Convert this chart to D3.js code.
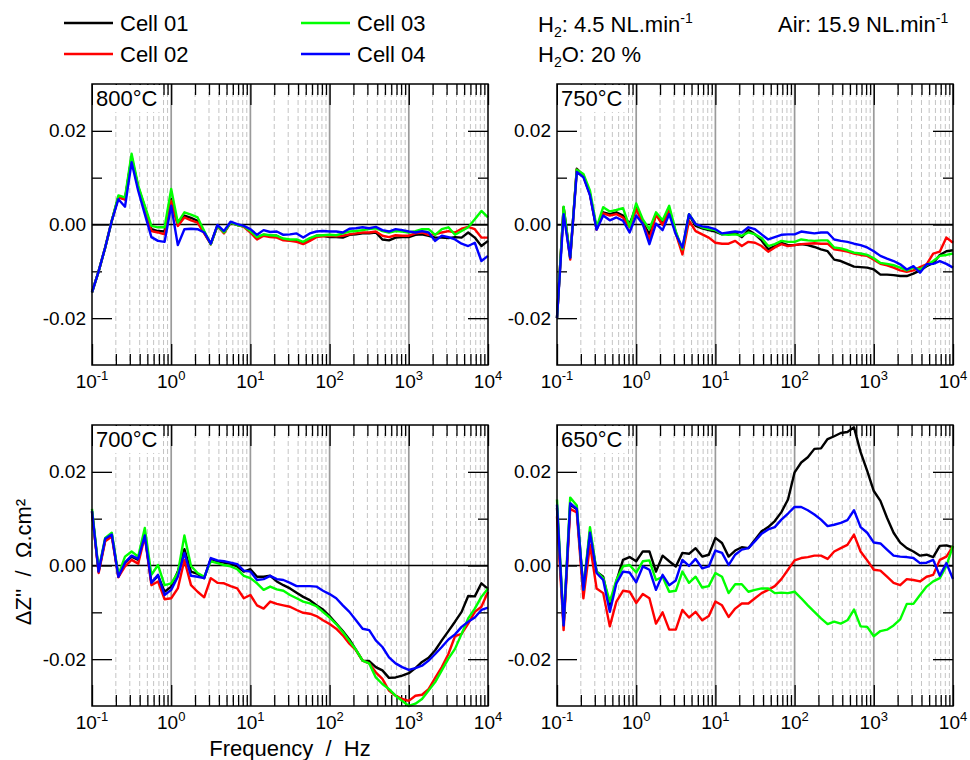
<!DOCTYPE html>
<html><head><meta charset="utf-8">
<script src="https://cdn.jsdelivr.net/npm/d3@7"></script>
<style>
body{margin:0;background:#fff}
svg{font-family:"Liberation Sans",Arial,sans-serif}
</style>
</head><body>
<svg id="c" width="970" height="760"></svg>
<script>
// Frequencies (Hz), 12 points per decade
const frequency = [0.1,0.1212,0.1468,0.1778,0.2154,0.2610,0.3162,0.3831,0.4642,0.5623,0.6813,0.8254,
1,1.212,1.468,1.778,2.154,2.610,3.162,3.831,4.642,5.623,6.813,8.254,
10,12.12,14.68,17.78,21.54,26.10,31.62,38.31,46.42,56.23,68.13,82.54,
100,121.2,146.8,177.8,215.4,261.0,316.2,383.1,464.2,562.3,681.3,825.4,
1000,1212,1468,1778,2154,2610,3162,3831,4642,5623,6813,8254,10000];

const cells = ["Cell 01","Cell 02","Cell 03","Cell 04"];
const cellColors = ["#000000","#ff0000","#00ff00","#0000ff"];
const temperatures = ["800°C","750°C","700°C","650°C"];

// ΔZ'' values in units of 1e-3 Ω.cm²
const t800_cell01 = [-14.5,-10.0,-4.9,0.8,5.9,5.4,14.4,8.0,3.7,-1.0,-1.4,-1.5,5.4,0.1,1.9,1.4,0.8,-1.7,-4.2,-0.3,-1.7,0.4,-0.1,-0.4,-1.4,-2.8,-2.2,-2.4,-2.4,-3.2,-3.4,-3.4,-3.9,-3.2,-2.4,-2.4,-2.7,-2.7,-2.8,-2.2,-2.1,-1.9,-1.9,-1.7,-3.2,-3.4,-2.8,-2.7,-2.7,-2.2,-2.1,-2.4,-2.8,-2.8,-2.9,-2.7,-2.8,-1.7,-2.8,-4.6,-3.5];
const t800_cell02 = [-14.5,-10.0,-4.9,0.8,5.8,5.3,14.1,7.8,3.5,-1.4,-1.7,-2.1,5.1,-0.3,1.5,0.9,0.4,-1.9,-4.2,-0.3,-1.9,0.4,-0.1,-0.5,-1.7,-3.2,-2.4,-2.7,-2.8,-3.4,-3.5,-3.7,-4.2,-3.5,-2.7,-2.5,-2.4,-2.5,-2.4,-2.1,-1.9,-1.7,-1.7,-1.5,-2.4,-2.7,-2.3,-2.4,-2.4,-1.9,-1.7,-2.2,-2.1,-1.7,-1.4,-1.7,-0.9,-0.5,-1.0,-2.8,-2.8];
const t800_cell03 = [-14.5,-10.0,-4.9,0.8,6.2,5.8,15.1,8.3,4.0,-0.3,-0.6,-0.6,7.6,0.4,2.6,2.1,1.5,-1.4,-4.2,-0.3,-1.7,0.4,-0.1,-0.4,-1.4,-2.7,-2.1,-2.3,-2.4,-3.0,-3.2,-3.2,-3.7,-2.9,-2.4,-2.3,-2.2,-2.3,-1.9,-1.5,-1.4,-1.2,-1.0,-0.8,-1.4,-1.7,-1.4,-1.5,-1.7,-1.4,-1.0,-1.0,-2.2,-1.0,-0.6,-2.2,-1.4,-0.6,1.1,2.9,1.5];
const t800_cell04 = [-14.5,-10.0,-4.9,0.8,5.4,3.8,13.3,7.2,2.2,-2.7,-3.5,-3.7,4.0,-4.4,-1.0,-0.9,-1.0,-1.7,-4.1,-0.1,-1.4,0.6,0.1,-0.3,-1.0,-2.2,-1.2,-1.6,-1.5,-2.2,-2.1,-1.9,-2.8,-1.9,-1.5,-1.4,-1.5,-1.5,-1.7,-0.9,-0.8,-0.6,-0.8,-0.5,-1.2,-1.5,-1.0,-1.2,-1.5,-1.7,-1.4,-1.7,-3.5,-2.4,-2.7,-3.2,-4.1,-4.6,-3.9,-7.8,-6.7];

const t750_cell01 = [-20.0,3.7,-7.1,11.9,10.5,6.5,-1.0,2.6,2.2,2.6,1.9,0.1,3.7,0.4,-2.1,2.2,0.1,3.3,-1.7,-5.7,2.1,-0.3,-0.8,-1.2,-1.5,-2.1,-1.9,-1.7,-2.7,-1.2,-2.1,-3.4,-5.3,-4.6,-3.9,-4.4,-4.4,-4.2,-4.4,-4.8,-5.3,-5.7,-7.5,-7.8,-8.4,-9.0,-9.1,-9.2,-9.6,-10.7,-10.7,-10.8,-11.0,-11.0,-10.5,-9.8,-8.9,-8.2,-6.5,-5.7,-5.5];
const t750_cell02 = [-20.0,3.5,-7.5,11.7,10.3,6.4,-1.1,2.4,1.9,2.2,1.5,-0.6,3.3,0.2,-3.2,2.1,-0.1,3.1,-1.9,-6.4,0.8,-1.4,-2.1,-2.8,-3.9,-4.1,-4.1,-3.5,-4.6,-3.7,-3.9,-4.6,-5.8,-4.9,-4.2,-4.6,-4.4,-4.2,-4.1,-4.0,-4.1,-4.1,-5.3,-5.5,-5.8,-6.2,-6.5,-6.7,-7.5,-8.4,-8.7,-9.2,-9.8,-10.1,-9.8,-9.1,-8.5,-6.2,-5.8,-2.8,-3.9];
const t750_cell03 = [-20.0,3.8,-7.0,11.7,10.8,7.2,-0.6,3.7,2.8,3.1,3.5,-0.5,4.5,1.1,-1.0,2.6,0.9,4.0,-1.5,-5.3,2.2,0.1,-0.6,-1.0,-1.2,-2.1,-2.2,-2.1,-2.4,-1.7,-2.1,-2.9,-4.6,-4.2,-3.5,-3.7,-3.7,-3.2,-3.4,-3.5,-3.4,-3.4,-4.9,-5.1,-5.5,-6.0,-6.2,-6.5,-7.2,-8.2,-8.4,-8.7,-9.2,-9.8,-9.2,-9.6,-8.7,-7.8,-6.7,-6.5,-6.2];
const t750_cell04 = [-20.0,2.2,-7.1,11.2,10.1,6.2,-1.1,1.9,0.9,1.5,0.8,-1.7,1.9,0.1,-4.2,0.2,-1.2,2.2,-2.1,-4.9,2.2,0.1,-0.4,-0.6,-1.0,-1.9,-1.7,-1.5,-1.7,-0.6,-1.0,-2.1,-3.2,-2.7,-2.2,-2.1,-2.1,-1.5,-1.7,-1.9,-1.7,-1.7,-3.2,-3.5,-3.7,-4.1,-4.4,-4.9,-5.7,-6.7,-7.3,-7.8,-8.5,-9.6,-8.9,-10.3,-8.5,-8.4,-7.8,-8.4,-9.2];

const t700_cell01 = [11.6,-1.3,5.5,6.6,-2.4,0.6,1.9,1.2,6.6,-3.7,-2.2,-5.6,-4.5,-1.3,3.5,-1.3,-1.8,-2.7,1.4,0.9,0.6,0.4,-0.2,-1.3,-0.8,-2.4,-2.4,-2.2,-3.4,-4.2,-4.9,-5.8,-6.7,-7.4,-8.5,-9.4,-10.8,-12.4,-14.0,-15.8,-18.0,-20.3,-20.4,-21.7,-22.4,-24.0,-23.9,-23.5,-23.0,-21.9,-20.6,-19.7,-18.1,-16.0,-14.0,-12.0,-9.9,-6.5,-6.6,-3.8,-5.0];
const t700_cell02 = [11.4,-1.6,5.2,6.2,-2.5,-0.2,1.2,0.4,6.2,-4.2,-3.4,-7.2,-7.0,-4.9,1.2,-4.2,-5.6,-6.8,-2.7,-3.7,-3.8,-4.4,-4.9,-7.0,-6.3,-8.5,-9.2,-7.7,-8.2,-8.5,-8.8,-9.5,-10.1,-10.3,-10.8,-11.7,-12.5,-13.5,-14.9,-16.7,-18.1,-20.3,-20.9,-22.8,-24.2,-26.7,-27.8,-28.5,-28.9,-27.8,-27.6,-26.4,-24.0,-21.7,-18.9,-15.1,-14.6,-12.4,-9.9,-8.8,-5.6];
const t700_cell03 = [12.1,-0.9,5.9,7.0,-2.0,1.9,3.0,1.9,8.0,-2.0,0.1,-4.2,-3.8,-1.6,6.4,-0.1,-1.6,-2.4,0.9,0.5,0.1,-0.2,-0.8,-2.2,-2.7,-3.8,-5.2,-4.5,-5.1,-5.4,-6.3,-7.0,-7.7,-8.1,-8.7,-9.9,-11.1,-12.5,-14.2,-16.1,-18.0,-20.3,-20.9,-23.9,-25.3,-26.4,-27.8,-28.9,-30.0,-29.5,-28.5,-26.7,-24.9,-22.4,-19.9,-17.8,-14.6,-11.3,-9.2,-6.7,-4.9];
const t700_cell04 = [11.6,-1.3,5.7,6.6,-2.4,0.6,2.1,1.4,6.4,-3.7,-2.0,-6.3,-5.2,-2.4,2.7,-2.2,-2.4,-2.7,1.6,1.1,0.9,0.6,0.3,-1.1,-1.3,-3.1,-2.9,-2.2,-2.9,-3.1,-3.7,-4.4,-4.4,-4.4,-4.5,-5.4,-6.1,-7.0,-8.5,-9.9,-11.7,-13.5,-13.8,-16.0,-17.4,-19.6,-20.9,-21.7,-22.3,-21.9,-21.4,-20.3,-18.9,-17.4,-15.8,-14.7,-13.1,-12.0,-11.1,-9.5,-9.0];

const t650_cell01 = [12.3,-12.8,13.0,12.0,-5.2,7.3,-1.3,-2.4,-8.8,-3.4,1.2,1.8,0.9,3.0,3.0,-1.3,2.1,0.9,-0.2,2.7,2.5,3.7,1.9,2.3,5.9,4.8,1.9,3.2,3.9,3.7,5.5,7.3,8.2,9.5,11.4,14.1,19.9,22.0,23.1,24.9,25.0,27.0,27.6,28.3,28.5,29.5,24.2,20.2,15.9,13.8,10.2,7.0,4.9,3.7,3.0,2.1,2.3,1.8,4.2,4.3,3.9];
const t650_cell02 = [10.5,-13.8,12.1,11.3,-7.0,4.4,-4.9,-5.9,-13.0,-7.7,-5.4,-5.6,-8.0,-6.1,-7.0,-12.4,-10.0,-13.7,-13.7,-9.5,-11.1,-9.9,-11.7,-10.8,-7.7,-8.5,-11.0,-9.2,-8.1,-8.1,-7.0,-5.9,-5.2,-4.4,-2.9,-0.9,1.1,1.6,1.8,2.1,2.1,1.4,3.0,3.7,4.4,6.6,3.0,1.1,-0.9,-1.1,-2.4,-3.7,-4.2,-2.9,-3.1,-3.4,-2.4,-2.0,1.2,1.9,4.1];
const t650_cell03 = [14.1,-12.5,14.5,12.8,-5.1,8.2,-1.3,-2.7,-7.7,-3.1,-0.2,0.1,-1.5,0.9,1.1,-3.1,-2.4,-5.6,-5.4,-1.3,-3.7,-2.4,-4.7,-4.4,-1.6,-2.4,-5.9,-4.0,-4.0,-5.6,-5.2,-4.9,-4.9,-5.9,-5.8,-5.9,-5.6,-7.0,-8.5,-9.9,-11.3,-12.5,-12.0,-12.4,-11.7,-9.4,-13.0,-13.1,-15.1,-14.0,-13.7,-12.8,-11.5,-8.2,-8.2,-6.3,-4.5,-3.4,-2.7,-0.1,4.2];
const t650_cell04 = [13.0,-12.8,13.3,12.1,-5.2,7.0,-1.6,-3.1,-9.9,-3.8,-1.3,-1.5,-3.6,-0.2,-0.9,-5.2,-2.0,-4.2,-3.2,1.2,-0.1,1.4,-0.6,-0.2,3.2,2.7,0.1,2.3,3.4,3.7,5.2,6.8,7.7,8.2,9.8,11.1,12.5,12.5,11.8,10.9,9.8,8.4,8.7,9.1,9.7,11.8,8.2,7.0,4.9,4.7,3.4,2.1,1.9,1.8,1.6,0.5,0.6,1.2,-2.2,0.5,-2.9];

const xMajorTicks = [0.1,1,10,100,1000,10000];
const xTickExponents = ["-1","0","1","2","3","4"];
const yMajorTicks = [-0.02,0,0.02];
const yMinorTicks = [-0.01,0.01];

const panels = [
  {label:temperatures[0], x0:92,  y0:84,  series:[t800_cell01,t800_cell02,t800_cell03,t800_cell04]},
  {label:temperatures[1], x0:557, y0:84,  series:[t750_cell01,t750_cell02,t750_cell03,t750_cell04]},
  {label:temperatures[2], x0:92,  y0:425, series:[t700_cell01,t700_cell02,t700_cell03,t700_cell04]},
  {label:temperatures[3], x0:557, y0:425, series:[t650_cell01,t650_cell02,t650_cell03,t650_cell04]}
];
const W = 396, H = 281;

const xMinorTicks = [];
for (let e = -1; e < 4; e++) for (let m = 2; m <= 9; m++) xMinorTicks.push(m * Math.pow(10, e));

const svg = d3.select("#c");

panels.forEach(p => {
  const x = d3.scaleLog().domain([0.1, 10000]).range([0, W]);
  const y = d3.scaleLinear().domain([-0.03, 0.03]).range([H, 0]);
  const g = svg.append("g").attr("transform", `translate(${p.x0},${p.y0})`);

  g.selectAll("line.minorgrid").data(xMinorTicks).join("line").attr("class","minorgrid")
    .attr("x1", d => x(d)).attr("x2", d => x(d)).attr("y1", 0).attr("y2", H)
    .attr("stroke", "#c4c4c4").attr("stroke-width", 1).attr("stroke-dasharray", "5,3");
  g.selectAll("line.majorgrid").data(xMajorTicks.slice(1, -1)).join("line").attr("class","majorgrid")
    .attr("x1", d => x(d)).attr("x2", d => x(d)).attr("y1", 0).attr("y2", H)
    .attr("stroke", "#9a9a9a").attr("stroke-width", 1.7);

  const tickStyle = a => { a.select(".domain").remove(); a.selectAll("line").attr("stroke-width", 1.3); };
  g.append("g").attr("transform", `translate(0,${H})`).call(d3.axisBottom(x).tickValues(xMajorTicks).tickSize(-21).tickFormat("")).call(tickStyle);
  g.append("g").attr("transform", `translate(0,${H})`).call(d3.axisBottom(x).tickValues(xMinorTicks).tickSize(-11).tickFormat("")).call(tickStyle);
  g.append("g").call(d3.axisTop(x).tickValues(xMajorTicks).tickSize(-21).tickFormat("")).call(tickStyle);
  g.append("g").call(d3.axisTop(x).tickValues(xMinorTicks).tickSize(-11).tickFormat("")).call(tickStyle);
  g.append("g").call(d3.axisLeft(y).tickValues(yMinorTicks).tickSize(-10).tickFormat("")).call(tickStyle);
  g.append("g").attr("transform", `translate(${W},0)`).call(d3.axisRight(y).tickValues(yMinorTicks).tickSize(-10).tickFormat("")).call(tickStyle);
  g.append("g").attr("transform", `translate(${W},0)`).call(d3.axisRight(y).tickValues(yMajorTicks).tickSize(-20).tickFormat("")).call(tickStyle);
  const yl = g.append("g").call(d3.axisLeft(y).tickValues(yMajorTicks).tickSize(-20).tickPadding(6).tickFormat(d => d.toFixed(2))).call(tickStyle);
  yl.attr("font-size", 19).attr("font-family", null);
  yl.selectAll("text").attr("fill", "#000");

  // zero line
  g.append("line").attr("x1", 0).attr("x2", W).attr("y1", y(0)).attr("y2", y(0))
    .attr("stroke", "#000").attr("stroke-width", 1.6);

  // data
  const line = d3.line().x((d, i) => x(frequency[i])).y(d => y(d / 1000));
  p.series.forEach((s, k) => {
    g.append("path").datum(s).attr("d", line).attr("fill", "none")
      .attr("stroke", cellColors[k]).attr("stroke-width", 2.4).attr("stroke-linejoin", "round");
  });

  // label box
  g.append("rect").attr("x", 1).attr("y", 1).attr("width", 69).attr("height", 27).attr("fill", "#fff");
  g.append("text").attr("x", 4).attr("y", 22).attr("font-size", 22).text(p.label);

  // frame
  g.append("rect").attr("x", 0).attr("y", 0).attr("width", W).attr("height", H)
    .attr("fill", "none").attr("stroke", "#000").attr("stroke-width", 1.5);

  // x tick labels
  xMajorTicks.forEach((v, i) => {
    const t = g.append("text").attr("x", x(v)).attr("y", H + 23).attr("text-anchor", "middle").attr("font-size", 19);
    t.append("tspan").text("10");
    t.append("tspan").attr("dy", -8).attr("font-size", 13).text(xTickExponents[i]);
  });
});

// axis titles
svg.append("text").attr("x", 290).attr("y", 756).attr("text-anchor", "middle").attr("font-size", 22)
  .text("Frequency\u00a0\u00a0/\u00a0\u00a0Hz");
svg.append("text").attr("transform", "translate(31,562) rotate(-90)").attr("text-anchor", "middle").attr("font-size", 22)
  .text("\u0394Z''\u00a0\u00a0/\u00a0\u00a0\u03a9.cm\u00b2");

// legend
const legendPos = [[64,23],[64,54],[301,23],[301,54]];
cells.forEach((c, k) => {
  const [lx, ly] = legendPos[k];
  svg.append("line").attr("x1", lx).attr("x2", lx + 49).attr("y1", ly).attr("y2", ly)
    .attr("stroke", cellColors[k]).attr("stroke-width", 2.6);
  svg.append("text").attr("x", lx + 56).attr("y", ly + 8).attr("font-size", 22).text(c);
});

// conditions
function cond(xp, yp, parts) {
  const t = svg.append("text").attr("x", xp).attr("y", yp).attr("font-size", 22);
  parts.forEach(([s, kind]) => {
    const ts = t.append("tspan").text(s);
    if (kind === "sub") ts.attr("font-size", 14).attr("dy", 5);
    if (kind === "sup") ts.attr("font-size", 14).attr("dy", -9);
    if (kind === "back") ts.attr("dy", -5);
  });
}
cond(538, 32, [["H",""],["2","sub"],[": 4.5 NL.min","back"],["-1","sup"]]);
cond(778, 32, [["Air: 15.9 NL.min",""],["-1","sup"]]);
cond(538, 62, [["H",""],["2","sub"],["O: 20 %","back"]]);
</script>
</body></html>
